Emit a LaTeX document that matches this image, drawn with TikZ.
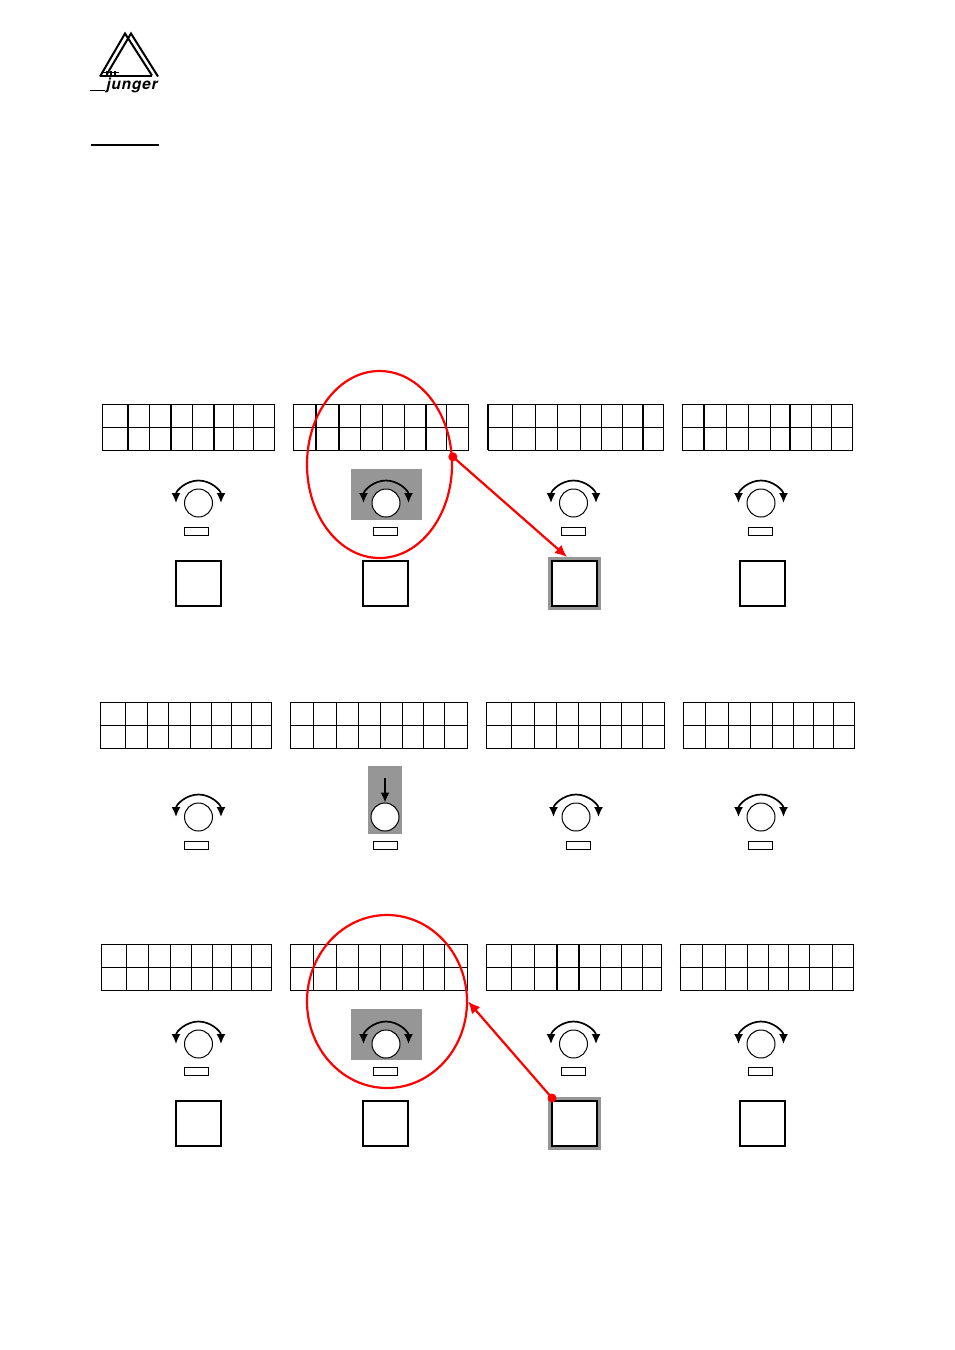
\documentclass[tikz,border=0pt]{standalone}
\usepackage{xcolor}
\usepackage{fontspec}
\setsansfont{TeX Gyre Heros}
\usetikzlibrary{arrows.meta, positioning, shapes.geometric}
\definecolor{panelgray}{HTML}{969696}
\tikzset{
	knob/.style={draw, circle, fill=white, line width=1pt, minimum size=28pt, inner sep=0pt},
	ledbox/.style={draw, rectangle, fill=white, line width=1pt, minimum width=24pt, minimum height=7.5pt, inner sep=0pt},
	keybox/.style={draw, rectangle, fill=white, line width=2pt, minimum width=45pt, minimum height=45pt, inner sep=0pt},
	panel/.style={fill=panelgray},
	oval/.style={draw=red, ellipse, line width=2.2pt, inner sep=0pt},
	reddot/.style={circle, fill=red, minimum size=9pt, inner sep=0pt},
	redarrow/.style={-{Latex[length=12pt,width=11pt]}, red, line width=2.2pt},
	turn/.style={{Latex[length=10pt,width=9pt]}-{Latex[length=10pt,width=9pt]}, line width=1.7pt}
}
% one display: top y, first x, last x, all vertical lines, the heavy ones
\newcommand{\displaygrid}[5]{
	\foreach \x in {#2,#4,#3} {\draw[line width=1pt] (\x,-#1) -- (\x,-#1-46);}
	\foreach \x in {#5} {\draw[line width=2pt] (\x,-#1) -- (\x,-#1-46);}
	\foreach \k in {0,23,46} {\draw[line width=1pt] (#2-.5,-#1-\k) -- (#3+.5,-#1-\k);}
}
% the two way arrow over a knob
\newcommand{\turnarrow}[1]{
	\draw[turn] ([shift=(180:22.5pt)]#1.center) arc (180:0:22.5pt);
}
\begin{document}
\begin{tikzpicture}[x=1pt, y=1pt]
	\useasboundingbox (0,0) rectangle (954,-1350);

	% Logo
	\draw[line width=2pt] (100,-76.5) -- (125,-33.5) -- (152,-75.5);
	\draw[line width=2pt] (107,-74) -- (131,-33.5) -- (158,-76.5);
	\draw[line width=2pt] (100,-75.5) -- (152,-75.5);
	\foreach \x in {107,111,115} {\draw[line width=1.2pt] (\x,-71) -- (\x,-76);}
	\draw[line width=1.2pt] (103,-72.5) -- (119,-72.5);
	\node[inner sep=0pt] (logotext) at (132,-85) {\sffamily\slshape\bfseries\fontsize{15.5}{15.5}\selectfont\addfontfeature{LetterSpace=5}junger};
	\draw[line width=1.4pt] (90,-90.5) -- (105,-90.5);

	% Heading rule
	\draw[line width=1.6pt] (91,-145) -- (159,-145);

	% Gray backgrounds
	\fill[panel] (351,-469) rectangle (422,-520);
	\fill[panel] (368,-766) rectangle (402,-834);
	\fill[panel] (351,-1009) rectangle (422,-1060);
	\fill[panel] (548,-557) rectangle (601,-610);
	\fill[panel] (548,-1097) rectangle (601,-1150);

	% First row
	\displaygrid{404}{102.5}{274}{128,149.5,171,192.5,214,233.5,253.5}{128,171,214}
	\displaygrid{404}{293.5}{468}{316,339,360.5,382.5,404,425.5,446.5}{316,339,425.5}
	\displaygrid{404}{488}{663.5}{512,535,557,580,601,622,643}{488,643}
	\displaygrid{404}{682}{852.5}{704,726,748,770,790,811,831}{704,790}
	\node[knob] (knobA) at (198.5,-503) {};
	\node[knob] (knobB) at (386,-503) {};
	\node[knob] (knobC) at (573.5,-503) {};
	\node[knob] (knobD) at (761,-503) {};
	\foreach \n in {knobA,knobB,knobC,knobD} {\turnarrow{\n}}
	\node[ledbox] (ledA) at (196.5,-531.5) {};
	\node[ledbox] (ledB) at (385,-531.5) {};
	\node[ledbox] (ledC) at (573,-531.5) {};
	\node[ledbox] (ledD) at (760.5,-531.5) {};
	\node[keybox] (keyA) at (198.5,-583.5) {};
	\node[keybox] (keyB) at (385.5,-583.5) {};
	\node[keybox] (keyC) at (574,-583.5) {};
	\node[keybox] (keyD) at (762,-583.5) {};

	% Second row
	\displaygrid{702}{100}{271.5}{125,147,168,190,211,231,251}{}
	\displaygrid{702}{290.5}{467.5}{313.5,336.5,358.5,380.5,402.5,423.5,444.5}{}
	\displaygrid{702}{486}{664.5}{511,534,556,578,600,621,642}{}
	\displaygrid{702}{683}{854.5}{705,728,750,772,793,813,833}{}
	\node[knob] (knobE) at (198.5,-817) {};
	\node[knob] (knobF) at (385,-817) {};
	\node[knob] (knobG) at (576,-817) {};
	\node[knob] (knobH) at (761,-817) {};
	\foreach \n in {knobE,knobG,knobH} {\turnarrow{\n}}
	\coordinate (pushF) at (385,-778);
	\draw[-{Latex[length=10pt,width=9pt]}, line width=1.7pt] (pushF) -- (knobF);
	\node[ledbox] (ledE) at (196.5,-845.5) {};
	\node[ledbox] (ledF) at (385,-845.5) {};
	\node[ledbox] (ledG) at (578,-845.5) {};
	\node[ledbox] (ledH) at (760.5,-845.5) {};

	% Third row
	\displaygrid{944}{101}{271.5}{126,148,170,191,212,231,251}{}
	\displaygrid{944}{290.5}{467.5}{313.5,336.5,358.5,380.5,402.5,423.5,444.5}{}
	\displaygrid{944}{486.5}{661.5}{511.5,534.5,556.5,579,600.5,621,642}{556.5,579}
	\displaygrid{944}{680}{853.5}{702,725,747,768,788,809,832}{}
	\node[knob] (knobI) at (198.5,-1044) {};
	\node[knob] (knobJ) at (386,-1044) {};
	\node[knob] (knobK) at (573.5,-1044) {};
	\node[knob] (knobL) at (761,-1044) {};
	\foreach \n in {knobI,knobJ,knobK,knobL} {\turnarrow{\n}}
	\node[ledbox] (ledI) at (196.5,-1071.5) {};
	\node[ledbox] (ledJ) at (385,-1071.5) {};
	\node[ledbox] (ledK) at (573,-1071.5) {};
	\node[ledbox] (ledL) at (760.5,-1071.5) {};
	\node[keybox] (keyI) at (198.5,-1123.5) {};
	\node[keybox] (keyJ) at (385.5,-1123.5) {};
	\node[keybox] (keyK) at (574,-1123.5) {};
	\node[keybox] (keyL) at (762,-1123.5) {};

	% Red marks
	\node[oval, minimum width=145pt, minimum height=187pt] (ovalA) at (379.5,-464.5) {};
	\node[oval, minimum width=160pt, minimum height=173pt] (ovalB) at (387,-1001.5) {};
	\node[reddot] (dotA) at (ovalA.6) {};
	\node[reddot, xshift=1.5pt, yshift=2pt] (dotB) at (keyK.north west) {};
	\coordinate (tipA) at (567,-557);
	\draw[redarrow] (dotA.center) -- (tipA);
	\draw[redarrow] (dotB.center) -- (ovalB.east);
\end{tikzpicture}
\end{document}
